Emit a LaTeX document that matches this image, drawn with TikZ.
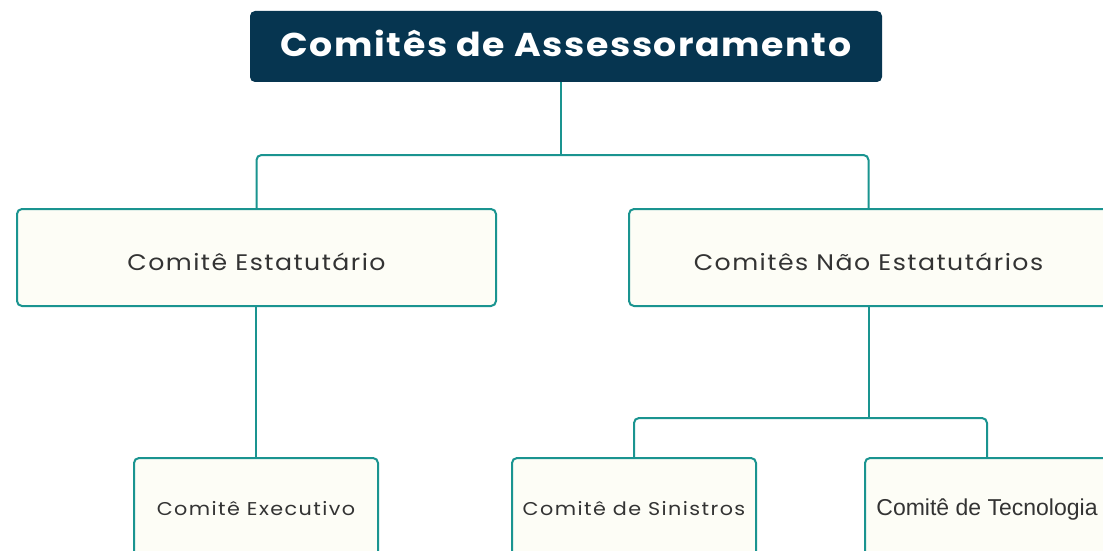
\documentclass[tikz,border=0pt]{standalone}
\usepackage{fontspec}
\setmainfont{Poppins}
\newfontfamily\titlefont[LetterSpace=4.7,FakeStretch=1.1]{Poppins}
\newfontfamily\midfont[LetterSpace=6.5,FakeStretch=1.12]{Poppins}
\newfontfamily\lowfont[LetterSpace=7.7,FakeStretch=1.12]{Poppins}
\newfontfamily\narrowfont{Liberation Sans}
\definecolor{navy}{HTML}{063550}
\definecolor{teal}{HTML}{1A9490}
\definecolor{cream}{HTML}{FDFDF6}
\definecolor{txt}{HTML}{333333}
\tikzset{
  conn/.style={draw=teal, line width=2pt, rounded corners=5pt},
  topbox/.style={rectangle, fill=navy, rounded corners=5pt, minimum width=632pt, minimum height=71pt, inner sep=0pt, text height=21pt, text depth=0pt, text=white, font=\titlefont\bfseries\fontsize{33}{38}\selectfont},
  midbox/.style={rectangle, draw=teal, line width=2pt, fill=cream, rounded corners=5pt, minimum width=479pt, minimum height=97pt, inner sep=0pt, text height=25pt, text depth=0pt, text=txt, font=\midfont\fontsize{22.5}{26}\selectfont},
  lowbox/.style={rectangle, draw=teal, line width=2pt, fill=cream, rounded corners=5pt, minimum width=244pt, minimum height=100pt, inner sep=0pt, text height=14pt, text depth=0pt, text=txt, font=\lowfont\fontsize{18.5}{22}\selectfont},
}
\begin{document}
\begin{tikzpicture}[x=1pt,y=-1pt]
\useasboundingbox (0,0) rectangle (1103,551);
\clip (0,0) rectangle (1103,551);
\fill[white] (0,0) rectangle (1103,551);
\node[topbox] (title) at (566,46.5) {Comitês de Assessoramento};
\node[midbox] (est) at (256.5,257.5) {Comitê Estatutário};
\node[midbox] (nest) at (868.5,257.5) {Comitês Não Estatutários};
\node[lowbox, anchor=north] (exe) at (256,457) {Comitê Executivo};
\node[lowbox, anchor=north] (sin) at (634,457) {Comitê de Sinistros};
\node[lowbox, anchor=north, font=\narrowfont\fontsize{23}{27}\selectfont] (tec) at (987,457) {Comitê de Tecnologia};
\coordinate (j1) at (561,155);
\coordinate (j2) at (868.5,418);
\draw[conn] (title.south -| j1) -- (j1);
\draw[conn] (est.north) |- (j1) -| (nest.north);
\draw[conn] (est.south -| exe.north) -- (exe.north);
\draw[conn] (nest.south) -- (j2);
\draw[conn] (sin.north) |- (j2) -| (tec.north);
\end{tikzpicture}
\end{document}
